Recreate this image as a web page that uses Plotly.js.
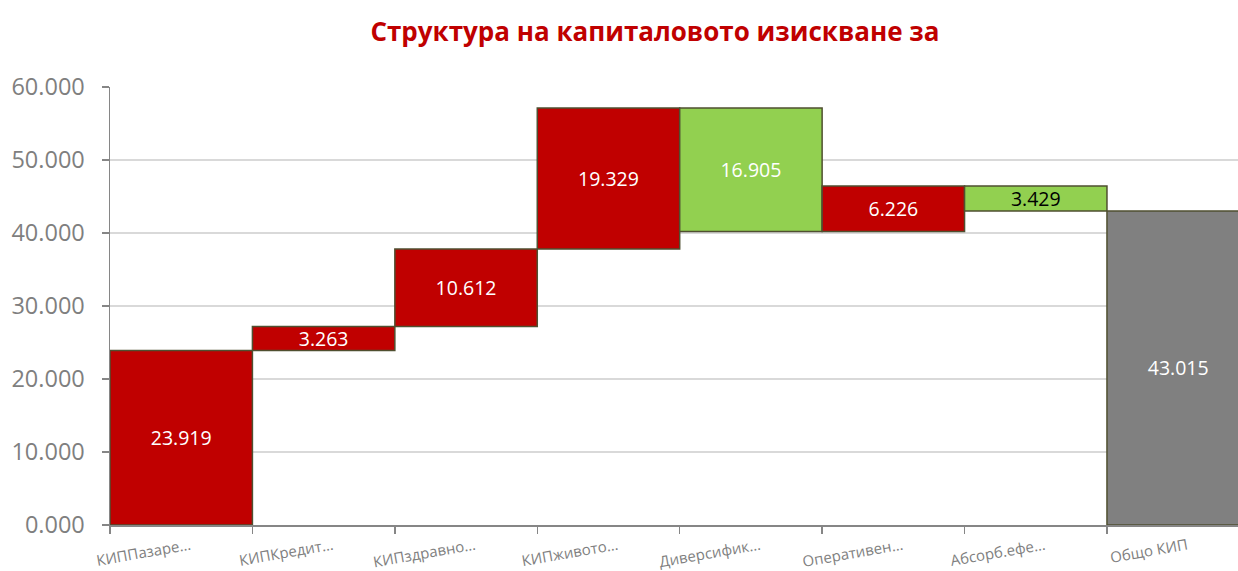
<!DOCTYPE html>
<html>
<head>
<meta charset="utf-8">
<script src="https://cdn.plot.ly/plotly-3.0.1.min.js"></script>
<style>html,body{margin:0;padding:0;background:#fff;}#chart{width:1238px;height:571px;}</style>
</head>
<body>
<div id="chart"></div>
<script>
var categories = ["КИППазаре…", "КИПКредит…", "КИПздравно…", "КИПживото…", "Диверсифик…", "Оперативен…", "Абсорб.ефе…", "Общо КИП"];
var values = [23.919, 3.263, 10.612, 19.329, -16.905, 6.226, -3.429, 43.015];
var measures = ["relative", "relative", "relative", "relative", "relative", "relative", "relative", "total"];
var labelColors = ["#ffffff", "#ffffff", "#ffffff", "#ffffff", "#ffffff", "#ffffff", "#000000", "#ffffff"];
var yTicks = [0, 10, 20, 30, 40, 50, 60];

var labels = values.map(function(v){ return Math.abs(v).toFixed(3); });
var outline = {color: "#4f4f30", width: 1.5};

var trace = {
  type: "waterfall",
  x: categories,
  y: values,
  measure: measures,
  text: labels,
  textinfo: "text",
  textposition: "inside",
  insidetextanchor: "middle",
  constraintext: "none",
  textfont: {family: "Open Sans, sans-serif", size: 19.5, color: labelColors},
  increasing: {marker: {color: "#c00000", line: outline}},
  decreasing: {marker: {color: "#92d050", line: outline}},
  totals: {marker: {color: "#808080", line: outline}},
  connector: {visible: false},
  hoverinfo: "skip"
};

var layout = {
  width: 1238, height: 571,
  margin: {l: 110, r: 0, t: 87, b: 46},
  paper_bgcolor: "#ffffff", plot_bgcolor: "#ffffff",
  showlegend: false,
  waterfallgap: 0,
  title: {text: "Структура на капиталовото изискване за", x: 0.529, xanchor: "center", y: 0.945, yanchor: "middle",
          font: {family: "Open Sans, sans-serif", size: 26, color: "#c00000", weight: "bold"}},
  xaxis: {
    type: "category",
    range: [-0.5, 7.42],
    tickson: "boundaries",
    ticks: "outside", ticklen: 7, tickcolor: "#868686", tickwidth: 1.5,
    showline: true, linecolor: "#868686", linewidth: 1.5,
    showgrid: false,
    tickangle: -10,
    ticklabelstandoff: 5,
    ticklabelshift: 9,
    tickfont: {family: "Open Sans, sans-serif", size: 15, color: "#7f7f7f"},
    automargin: false
  },
  yaxis: {
    range: [0, 60],
    tickvals: yTicks,
    tickformat: ".3f",
    ticks: "outside", ticklen: 7, tickcolor: "#868686", tickwidth: 1.5,
    showline: true, linecolor: "#868686", linewidth: 1.5,
    showgrid: true, gridcolor: "#d9d9d9", gridwidth: 1.5,
    zeroline: false,
    ticklabelstandoff: 12,
    tickfont: {family: "Open Sans, sans-serif", size: 23.5, color: "#7f7f7f"},
    automargin: false
  }
};

Plotly.newPlot("chart", [trace], layout, {displayModeBar: false, staticPlot: true});
</script>
</body>
</html>
